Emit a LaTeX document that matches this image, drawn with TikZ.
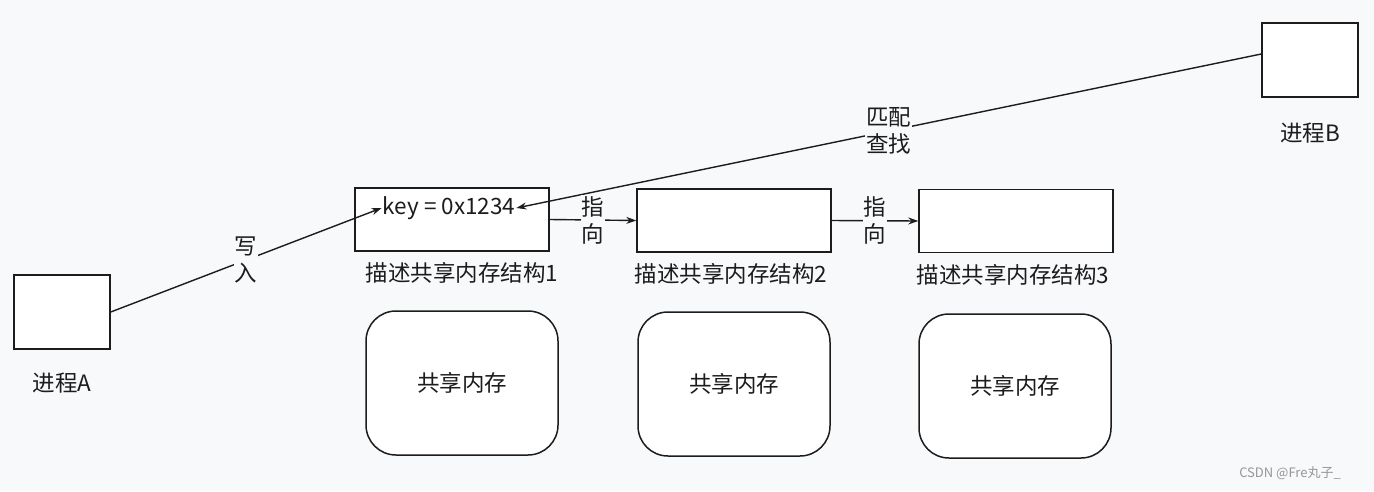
\documentclass[tikz,border=0pt]{standalone}
\usepackage{fontspec}
\setmainfont{Noto Sans CJK SC}
\usetikzlibrary{arrows.meta}
\definecolor{bgpaper}{RGB}{248,249,250}
\definecolor{inkline}{RGB}{28,28,28}
\definecolor{markgray}{RGB}{150,150,150}

\begin{document}
\begin{tikzpicture}[x=1pt,y=-1pt,
  every node/.style={font=\fontsize{22.5}{27}\selectfont,text=inkline},
  procbox/.style={draw=inkline,line width=1.5pt,fill=white,minimum width=96pt,minimum height=74pt,inner sep=0pt},
  descbox/.style={draw=inkline,line width=1.5pt,fill=white,minimum width=194pt,minimum height=63pt,inner sep=0pt},
  membox/.style={draw=inkline,line width=1.5pt,fill=white,rounded corners=30pt,minimum width=192pt,minimum height=144pt,inner sep=0pt},
  link/.style={draw=inkline,line width=1.4pt,-{Stealth[length=10pt,width=7pt]}},
  linklabel/.style={fill=bgpaper,inner sep=1pt,align=center}]
\fill[bgpaper] (0,0) rectangle (1374,491);
% processes
\node[procbox] (procA) at (62,312) {};
\node[procbox] (procB) at (1310,60) {};
\node (labA) at (62,383) {进程A};
\node (labB) at (1310,133) {进程B};
% description structures
\node[descbox] (desc1) at (452,219.5) {};
\node[descbox] (desc2) at (734,220.5) {};
\node[descbox] (desc3) at (1016,221) {};
\node[inner sep=1pt] (key) at (449,208) {key = 0x1234};
\node (labD1) at (462,273) {描述共享内存结构1};
\node (labD2) at (731,274) {描述共享内存结构2};
\node (labD3) at (1013,275) {描述共享内存结构3};
% shared memory
\node[membox] (mem1) at (462,383) {共享内存};
\node[membox] (mem2) at (734,384) {共享内存};
\node[membox] (mem3) at (1015,386) {共享内存};
% connectors
\draw[link] (procA.east) -- node[linklabel] (wr) {写\\入} (key.west);
\draw[link] ([yshift=6pt]procB.west) -- node[linklabel] (find) {匹配\\查找} (key.east);
\draw[link] (desc1.east) -- node[linklabel] (pt1) {指\\向} (desc2.west);
\draw[link] (desc2.east) -- node[linklabel] (pt2) {指\\向} (desc3.west);
\node[font=\fontsize{13}{15}\selectfont,text=markgray] (mark) at (1290,473) {CSDN @Fre丸子\_};
\end{tikzpicture}
\end{document}
